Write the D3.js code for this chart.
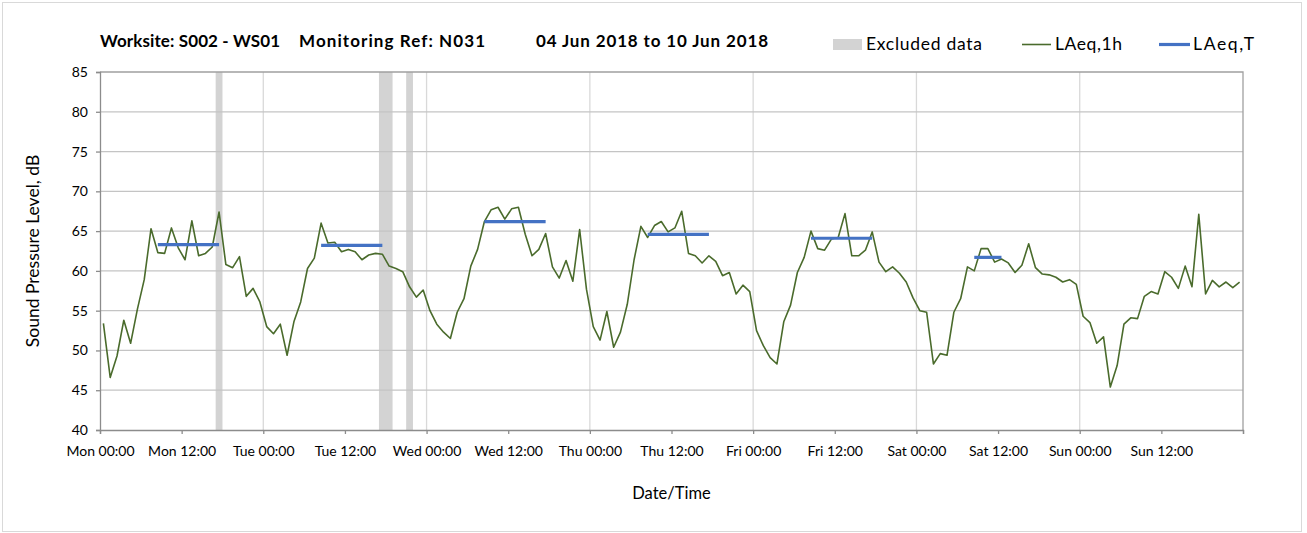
<!DOCTYPE html>
<html>
<head>
<meta charset="utf-8">
<script src="https://cdn.jsdelivr.net/npm/d3@7"></script>
<style>
  body { margin: 0; background: #fff; }
  text { font-family: Candara, Lato, "Open Sans", sans-serif; fill: #000; }
</style>
</head>
<body>
<svg width="1307" height="533"></svg>
<script>
// hourly LAeq,1h values (dB), Mon 00:00 .. Sun 23:00
var laeq1h = [
  53.4, 46.6, 49.3, 53.8, 50.9, 55.2, 58.9, 65.3, 62.3, 62.2, 65.4, 62.9,
  61.4, 66.3, 61.9, 62.2, 63.0, 67.4, 60.8, 60.4, 61.8, 56.8, 57.8, 56.1,
  53.0, 52.1, 53.3, 49.4, 53.6, 56.1, 60.3, 61.6, 66.0, 63.5, 63.6, 62.4,
  62.7, 62.4, 61.4, 62.0, 62.2, 62.1, 60.6, 60.3, 59.9, 58.0, 56.7, 57.6,
  55.0, 53.3, 52.3, 51.5, 54.8, 56.5, 60.6, 62.7, 66.2, 67.7, 68.0, 66.5,
  67.8, 68.0, 64.6, 61.9, 62.7, 64.7, 60.5, 59.1, 61.3, 58.7, 65.2, 57.7,
  53.0, 51.3, 54.9, 50.4, 52.3, 55.8, 61.4, 65.6, 64.2, 65.7, 66.2, 64.9,
  65.4, 67.5, 62.2, 61.9, 61.0, 61.9, 61.2, 59.4, 59.8, 57.1, 58.2, 57.4,
  52.5, 50.6, 49.1, 48.3, 53.6, 55.7, 59.8, 61.7, 65.0, 62.8, 62.6, 64.0,
  64.2, 67.2, 61.9, 61.9, 62.6, 64.9, 61.1, 59.9, 60.5, 59.7, 58.6, 56.6,
  55.0, 54.8, 48.3, 49.6, 49.4, 54.8, 56.5, 60.5, 60.0, 62.8, 62.8, 61.1,
  61.5, 61.0, 59.8, 60.7, 63.4, 60.4, 59.6, 59.5, 59.2, 58.6, 58.9, 58.3,
  54.3, 53.5, 50.9, 51.7, 45.4, 48.1, 53.3, 54.1, 54.0, 56.8, 57.4, 57.1,
  59.9, 59.2, 57.8, 60.6, 58.0, 67.1, 57.1, 58.8, 58.0, 58.6, 57.9, 58.6
];

// LAeq,T daytime periods: first / last hour index and level
var periodStart = [8, 32, 56, 80, 104, 128];
var periodEnd   = [17, 41, 65, 89, 113, 132];
var periodLevel = [63.3, 63.2, 66.2, 64.6, 64.1, 61.7];

// excluded data, hours from Mon 00:00
var exclStart = [17, 41, 45];
var exclEnd   = [18, 43, 46];

var tickLabels = ["Mon 00:00", "Mon 12:00", "Tue 00:00", "Tue 12:00", "Wed 00:00", "Wed 12:00",
  "Thu 00:00", "Thu 12:00", "Fri 00:00", "Fri 12:00", "Sat 00:00", "Sat 12:00", "Sun 00:00", "Sun 12:00"];
var yTicks = [40, 45, 50, 55, 60, 65, 70, 75, 80, 85];

var titleParts = ["Worksite: S002 - WS01", "Monitoring Ref: N031", "04 Jun 2018 to 10 Jun 2018"];

var svg = d3.select("svg"),
    margin = {top: 72, right: 64, bottom: 103, left: 100},
    width = +svg.attr("width") - margin.left - margin.right,
    height = +svg.attr("height") - margin.top - margin.bottom;

// chart border
svg.append("rect")
    .attr("x", 2.5).attr("y", 2.5)
    .attr("width", 1299).attr("height", 529)
    .attr("fill", "none").attr("stroke", "#d9d9d9");

var x = d3.scaleLinear().domain([0, 168]).range([0, width]),
    y = d3.scaleLinear().domain([40, 85]).range([height, 0]);

var g = svg.append("g")
    .attr("transform", "translate(" + margin.left + "," + margin.top + ")");

// excluded bands
g.selectAll(".excl")
  .data(exclStart)
  .enter().append("rect")
    .attr("class", "excl")
    .attr("x", function(d) { return x(d); })
    .attr("y", 0)
    .attr("width", function(d, i) { return x(exclEnd[i]) - x(d); })
    .attr("height", height)
    .attr("fill", "#d3d3d3");

// grid
g.append("g")
  .selectAll("line")
  .data(d3.range(24, 168, 24))
  .enter().append("line")
    .attr("x1", function(d) { return x(d); })
    .attr("x2", function(d) { return x(d); })
    .attr("y1", 0).attr("y2", height)
    .attr("stroke", "#d9d9d9").attr("stroke-width", 1.3);

g.append("g")
  .selectAll("line")
  .data(yTicks.slice(1, -1))
  .enter().append("line")
    .attr("x1", 0).attr("x2", width)
    .attr("y1", function(d) { return y(d); })
    .attr("y2", function(d) { return y(d); })
    .attr("stroke", "#c4c4c4").attr("stroke-width", 1.3);

// plot frame top/right
g.append("path")
    .attr("d", "M0,0H" + width + "V" + height)
    .attr("fill", "none")
    .attr("stroke", "#a0a0a0").attr("stroke-width", 1.3);

// axes
var xAxis = g.append("g")
    .attr("transform", "translate(0," + height + ")")
    .call(d3.axisBottom(x)
      .tickValues(d3.range(0, 169, 12))
      .tickSize(4)
      .tickFormat(function(d, i) { return tickLabels[i] || ""; }));

var yAxis = g.append("g")
    .call(d3.axisLeft(y)
      .tickValues(yTicks)
      .tickSize(4)
      .tickPadding(8));

[xAxis, yAxis].forEach(function(a) {
  a.select(".domain").attr("stroke", "#8c8c8c").attr("stroke-width", 1.3);
  a.selectAll(".tick line").attr("stroke", "#8c8c8c").attr("stroke-width", 1.3);
  a.selectAll("text").attr("font-size", 14).attr("fill", "#000")
    .style("font-family", "Candara, Lato, sans-serif");
});
xAxis.selectAll("text").attr("dy", "1.35em");

// LAeq,1h line
var line = d3.line()
    .x(function(d, i) { return x(i + 0.5); })
    .y(function(d) { return y(d); });

g.append("path")
    .datum(laeq1h)
    .attr("fill", "none")
    .attr("stroke", "#4a6b2c")
    .attr("stroke-width", 1.6)
    .attr("stroke-linejoin", "round")
    .attr("d", line);

// LAeq,T segments
g.selectAll(".laeqT")
  .data(periodLevel)
  .enter().append("line")
    .attr("class", "laeqT")
    .attr("x1", function(d, i) { return x(periodStart[i] + 0.5); })
    .attr("x2", function(d, i) { return x(periodEnd[i] + 0.5); })
    .attr("y1", function(d) { return y(d); })
    .attr("y2", function(d) { return y(d); })
    .attr("stroke", "#4472c4")
    .attr("stroke-width", 3.2);

// title, three parts
var titleX = [100, 299, 536], titleW = [180, 186, 232];
svg.selectAll(".title")
  .data(titleParts)
  .enter().append("text")
    .attr("class", "title")
    .attr("x", function(d, i) { return titleX[i]; })
    .attr("y", 47)
    .attr("font-size", 17).attr("font-weight", "bold")
    .attr("textLength", function(d, i) { return titleW[i]; })
    .attr("lengthAdjust", "spacing")
    .text(function(d) { return d; });

svg.append("text")
    .attr("transform", "translate(39," + (margin.top + height / 2) + ") rotate(-90)")
    .attr("text-anchor", "middle")
    .attr("font-size", 17.5)
    .text("Sound Pressure Level, dB");

svg.append("text")
    .attr("x", margin.left + width / 2).attr("y", 499)
    .attr("text-anchor", "middle")
    .attr("font-size", 16.5)
    .text("Date/Time");

// legend
var lg = svg.append("g");
lg.append("rect").attr("x", 833).attr("y", 39).attr("width", 29).attr("height", 11).attr("fill", "#d3d3d3");
lg.append("text").attr("x", 866).attr("y", 50).attr("font-size", 17.5)
    .attr("textLength", 116).attr("lengthAdjust", "spacing").text("Excluded data");
lg.append("line").attr("x1", 1022).attr("x2", 1051).attr("y1", 44.5).attr("y2", 44.5)
    .attr("stroke", "#4a6b2c").attr("stroke-width", 1.6);
lg.append("text").attr("x", 1055).attr("y", 50).attr("font-size", 17.5)
    .attr("textLength", 67).attr("lengthAdjust", "spacing").text("LAeq,1h");
lg.append("line").attr("x1", 1159).attr("x2", 1190).attr("y1", 44.5).attr("y2", 44.5)
    .attr("stroke", "#4472c4").attr("stroke-width", 3.2);
lg.append("text").attr("x", 1193).attr("y", 50).attr("font-size", 17.5)
    .attr("textLength", 61).attr("lengthAdjust", "spacing").text("LAeq,T");
</script>
</body>
</html>
